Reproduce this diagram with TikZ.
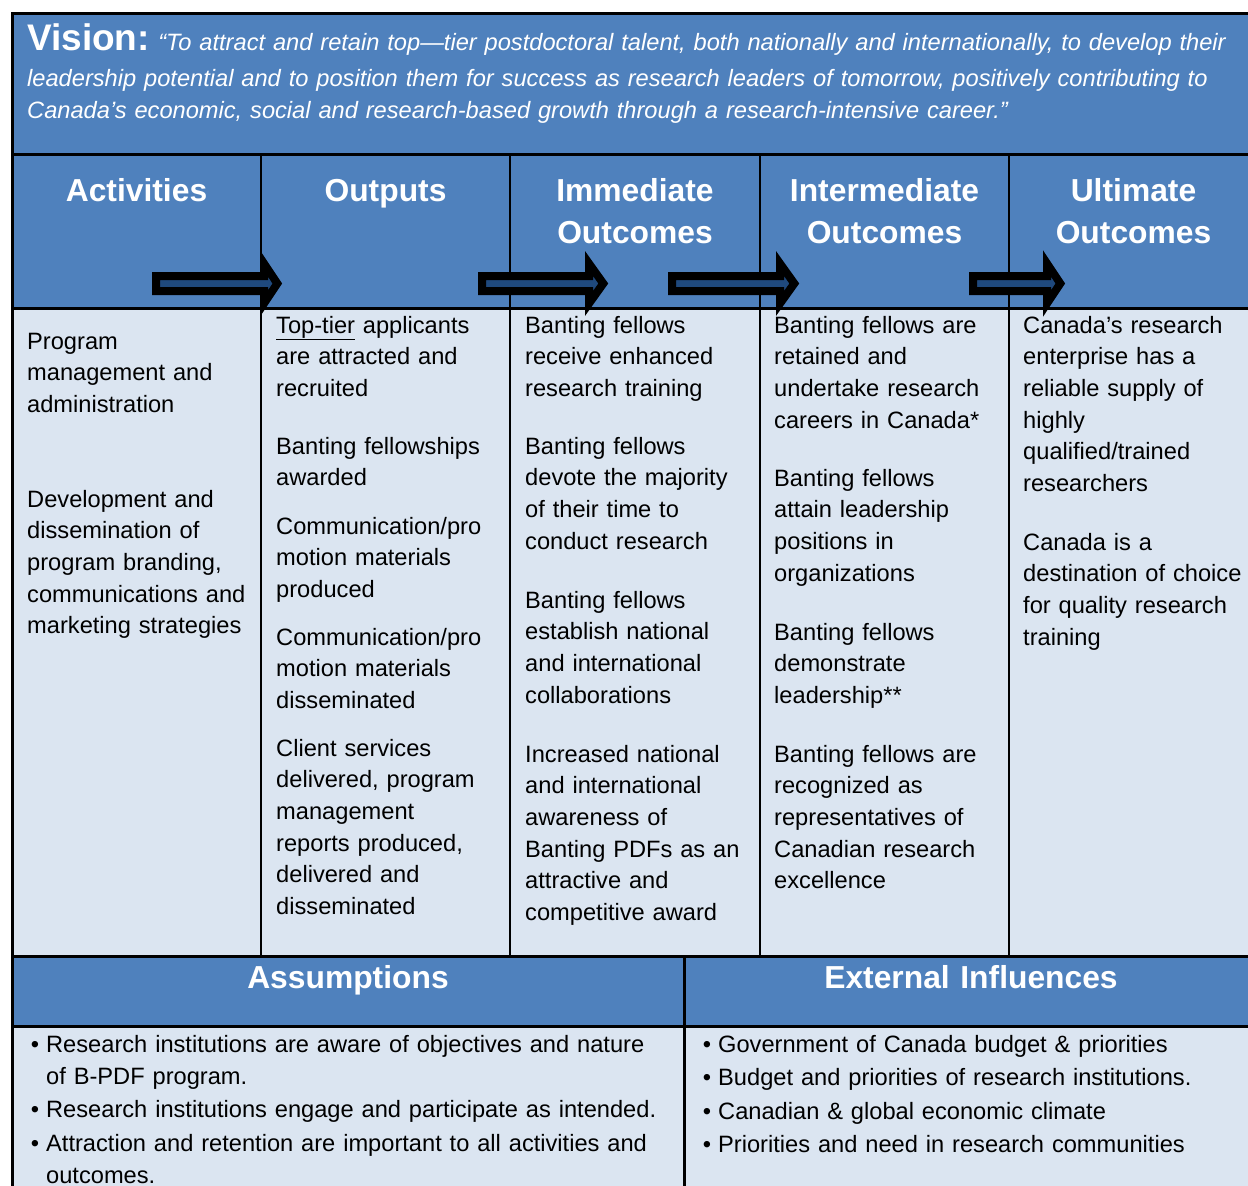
\documentclass[tikz,border=0pt]{standalone}
\usepackage{fontspec}
\setmainfont{Liberation Sans}
\usepackage{xcolor}

\definecolor{lmblue}{HTML}{4F81BD}
\definecolor{lmpale}{HTML}{DBE5F1}
\definecolor{lmnavy}{HTML}{1F497D}

% block arrow between two header cells: start, head base, tip (outer edges)
\newcommand{\flowarrow}[3]{
    \draw[arrowbody] (#1+4,276) -- (#2+4,276) -- (#2+4,263.5) -- (#3-5.7,283.5)
        -- (#2+4,303.5) -- (#2+4,291) -- (#1+4,291) -- cycle;
}

\tikzset{
    % text width gives a top-aligned box, so base is the first line
    cell/.style={anchor=base west, inner sep=0pt, text width=235pt, align=left,
        font=\fontsize{23.65}{31.7}\selectfont},
    bullet/.style={cell, text width=640pt,
        execute at begin node={\llap{\textbullet\hspace{7pt}}}},
    colhead/.style={anchor=base, inner sep=0pt, text width=245pt, align=center,
        text=white, font=\bfseries\fontsize{31.8}{42}\selectfont},
    vision/.style={anchor=base west, inner sep=0pt, text width=1220pt, align=left,
        text=white, font=\itshape\fontsize{23.65}{32}\selectfont},
    grid/.style={line width=2pt},
    frame/.style={line width=3pt},
    arrowbody/.style={draw=black, fill=lmnavy, line width=8pt, line join=miter},
}

\begin{document}
\begin{tikzpicture}[x=1pt, y=-1pt]

    \useasboundingbox (0,0) rectangle (1248,1186);

    % Background bands
    \fill[lmblue] (12,13) rectangle (1258,308);
    \fill[lmpale] (12,308) rectangle (1258,956);
    \fill[lmblue] (12,956) rectangle (1258,1026);
    \fill[lmpale] (12,1026) rectangle (1258,1200);

    % Vision statement
    \node[anchor=base west, inner sep=0pt, text=white,
        font=\bfseries\fontsize{37}{40}\selectfont] (vtitle) at (27,50) {Vision:};
    \node[vision, text width=1100pt] (vline1) at ([xshift=8pt]vtitle.base east)
        {“To attract and retain top—tier postdoctoral talent, both nationally and internationally, to develop their};
    \node[vision] (vline2) at (27,86)
        {leadership potential and to position them for success as research leaders of tomorrow, positively contributing to\\
         Canada’s economic, social and research-based growth through a research-intensive career.”};

    % Column headings
    \foreach \x/\name/\txt in {136.5/act/Activities, 385.5/out/Outputs,
        635/imm/{Immediate\\Outcomes}, 884.5/int/{Intermediate\\Outcomes},
        1133.5/ult/{Ultimate\\Outcomes}}{
        \node[colhead] (h\name) at (\x,201) {\txt};
    }

    % Activities
    \node[cell] (act1) at (27,349) {Program\\management and\\administration};
    \node[cell] (act2) at (27,507) {Development and\\dissemination of\\program branding,\\communications and\\marketing strategies};

    % Outputs
    \node[cell] (out1) at (276,333) {\underline{Top-tier} applicants\\are attracted and\\recruited};
    \node[cell] (out2) at (276,454) {Banting fellowships\\awarded};
    \node[cell] (out3) at (276,534) {Communication/pro\\motion materials\\produced};
    \node[cell] (out4) at (276,645) {Communication/pro\\motion materials\\disseminated};
    \node[cell] (out5) at (276,756) {Client services\\delivered, program\\management\\reports produced,\\delivered and\\disseminated};

    % Immediate outcomes
    \node[cell] (imm1) at (525,333) {Banting fellows\\receive enhanced\\research training};
    \node[cell] (imm2) at (525,454) {Banting fellows\\devote the majority\\of their time to\\conduct research};
    \node[cell] (imm3) at (525,608) {Banting fellows\\establish national\\and international\\collaborations};
    \node[cell] (imm4) at (525,762) {Increased national\\and international\\awareness of\\Banting PDFs as an\\attractive and\\competitive award};

    % Intermediate outcomes
    \node[cell] (int1) at (774,333) {Banting fellows are\\retained and\\undertake research\\careers in Canada*};
    \node[cell] (int2) at (774,486) {Banting fellows\\attain leadership\\positions in\\organizations};
    \node[cell] (int3) at (774,640) {Banting fellows\\demonstrate\\leadership**};
    \node[cell] (int4) at (774,762) {Banting fellows are\\recognized as\\representatives of\\Canadian research\\excellence};

    % Ultimate outcomes
    \node[cell] (ult1) at (1023,333) {Canada’s research\\enterprise has a\\reliable supply of\\highly\\qualified/trained\\researchers};
    \node[cell] (ult2) at (1023,550) {Canada is a\\destination of choice\\for quality research\\training};

    % Assumptions and external influences
    \node[colhead, text width=600pt] (hass) at (348,988) {Assumptions};
    \node[colhead, text width=500pt] (hext) at (971,988) {External Influences};

    \node[bullet, font=\fontsize{23.65}{32}\selectfont] (ass1) at (46,1052) {Research institutions are aware of objectives and nature\\of B-PDF program.};
    \node[bullet] (ass2) at (46,1117) {Research institutions engage and participate as intended.};
    \node[bullet, font=\fontsize{23.65}{32}\selectfont] (ass3) at (46,1151) {Attraction and retention are important to all activities and\\outcomes.};

    \node[bullet, text width=520pt] (ext1) at (718,1052) {Government of Canada budget \& priorities};
    \node[bullet, text width=520pt] (ext2) at (718,1085) {Budget and priorities of research institutions.};
    \node[bullet, text width=520pt] (ext3) at (718,1119) {Canadian \& global economic climate};
    \node[bullet, text width=520pt] (ext4) at (718,1152) {Priorities and need in research communities};

    % Table rules
    \draw[frame] (12,1200) -- (12,13) -- (1258,13);
    \foreach \y in {154,308,956,1026}{
        \draw[frame] (12,\y) -- (1258,\y);
    }
    \foreach \x in {261,510,760,1009}{
        \draw[grid] (\x,154) -- (\x,956);
    }
    \draw[frame] (684,956) -- (684,1200);

    % Arrows between the headings
    \flowarrow{152}{260}{283}
    \flowarrow{478}{585}{609}
    \flowarrow{668}{776}{800}
    \flowarrow{969}{1043}{1066}

\end{tikzpicture}
\end{document}
